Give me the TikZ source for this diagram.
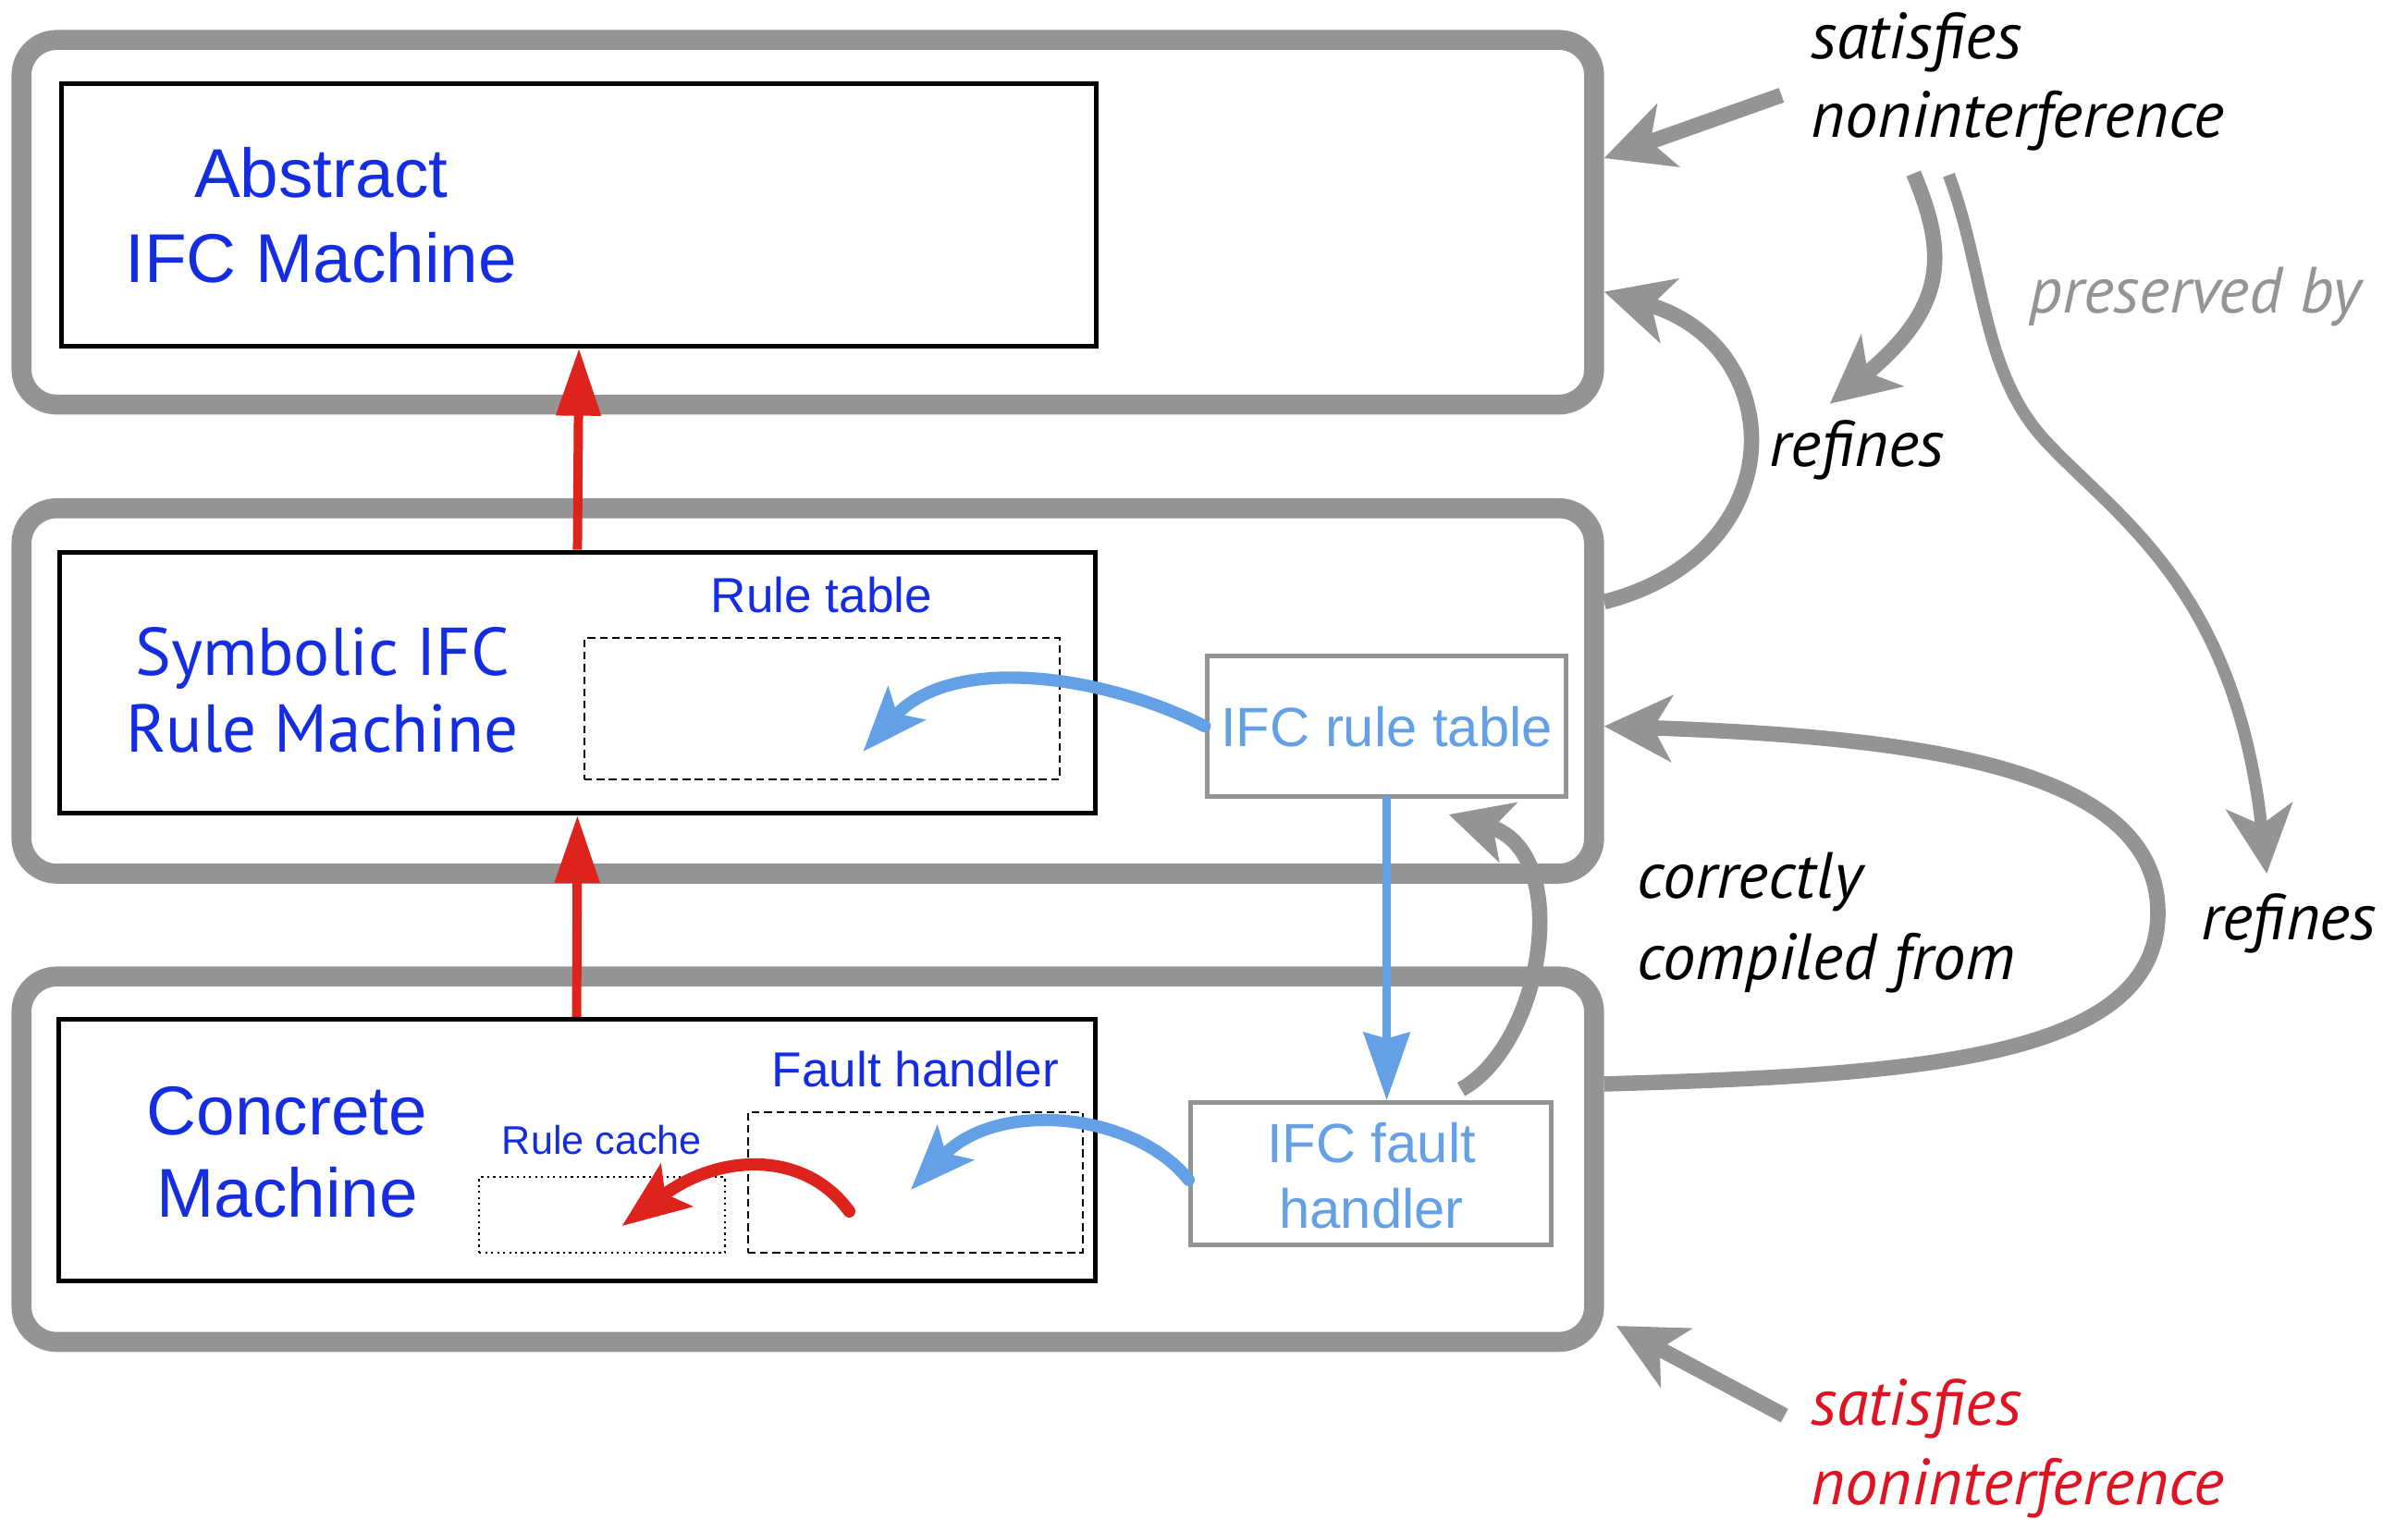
\documentclass[tikz,border=0pt]{standalone}
\usepackage{fontspec}
\setmainfont{Liberation Sans}
\newfontfamily\gill{PT Sans}
\usetikzlibrary{arrows.meta,calc}
\definecolor{tblue}{RGB}{20,45,225}
\definecolor{lblue}{RGB}{100,160,230}
\definecolor{ared}{RGB}{222,34,28}
\definecolor{tred}{RGB}{222,20,35}
\definecolor{agray}{RGB}{148,148,148}
\newcommand\lblfont{\gill\itshape\fontsize{42.5}{51}\selectfont}
\begin{document}
\begin{tikzpicture}[x=1pt,y=-1pt,
 layer/.style={draw=agray,line width=13pt,rounded corners=23pt,inner sep=0pt,outer sep=6.5pt},
 machine/.style={draw=black,line width=3pt,inner sep=0pt,outer sep=1.5pt},
 dashbox/.style={draw=black,line width=1.4pt,dash pattern=on 5pt off 3pt,inner sep=0pt,outer sep=0pt},
 dotbox/.style={draw=black,line width=1.4pt,dash pattern=on 1.4pt off 2.5pt,inner sep=0pt,outer sep=0pt},
 graybox/.style={draw=agray,line width=3pt,inner sep=0pt,outer sep=1.5pt},
 lbl/.style={inner sep=0pt,anchor=base},
 lbll/.style={inner sep=0pt,anchor=base west,align=left,font=\lblfont},
 redarr/.style={draw=ared,line width=6pt,-{Triangle[length=44pt,width=28pt]}},
 bluearr/.style={draw=lblue,line width=8pt,line cap=round,-{Stealth[length=42pt,width=32pt,inset=9pt]}},
 grayarr/.style={draw=agray,line width=10pt,-{Stealth[length=44pt,width=43pt,inset=12pt]}}]
\useasboundingbox (0,0) rectangle (1568,989);
% layers
\node[layer, minimum width=1024pt, minimum height=237.5pt] (L1) at (526,144.75) {};
\node[layer, minimum width=1024pt, minimum height=238pt] (L2) at (526,450) {};
\node[layer, minimum width=1024pt, minimum height=238pt] (L3) at (526,755) {};
% machines
\node[machine, minimum width=674pt, minimum height=170.5pt] (A) at (377,140) {};
\node[machine, minimum width=674pt, minimum height=170pt] (S) at (376,444.5) {};
\node[machine, minimum width=675pt, minimum height=170.5pt] (C) at (375.5,749) {};
% inner parts
\node[dashbox, minimum width=309.5pt, minimum height=92pt] (RT) at (535.25,461.5) {};
\node[dashbox, minimum width=218pt, minimum height=91.5pt] (FH) at (596,770) {};
\node[dotbox, minimum width=160pt, minimum height=49.3pt] (RC) at (392,791.3) {};
\node[graybox, minimum width=234pt, minimum height=92pt] (IRT) at (903,473) {};
\node[graybox, minimum width=234.5pt, minimum height=93pt] (IFH) at (892.75,764.5) {};
% texts (multi-line nodes: base = last line)
\node[lbl, align=center, text=tblue, font=\fontsize{45}{55}\selectfont] (tA) at (209,183.7) {Abstract\\IFC Machine};
\node[lbl, align=center, text=tblue, font=\gill\fontsize{44}{50}\selectfont] (tS) at (210,490) {Symbolic IFC\\Rule Machine};
\node[lbl, align=center, text=tblue, font=\fontsize{45}{54}\selectfont] (tC) at (187,793) {Concrete\\Machine};
\node[lbl, text=tblue, font=\fontsize{32}{38}\selectfont] (tRT) at (535,399) {Rule table};
\node[lbl, text=tblue, font=\fontsize{32}{38}\selectfont] (tFH) at (596,707.6) {Fault handler};
\node[lbl, text=tblue, font=\fontsize{26}{31}\selectfont] (tRC) at (392,751.6) {Rule cache};
\node[lbl, text=lblue, font=\fontsize{36}{43}\selectfont] (tIRT) at (903,486) {IFC rule table};
\node[lbl, align=center, text=lblue, font=\fontsize{36}{43}\selectfont] (tIFH) at (893,800) {IFC fault\\handler};
% italic labels
\node[lbll] (sat1) at (1179,89.3) {satisfies\\noninterference};
\node[lbll, text=agray] (pres) at (1321,204) {preserved by};
\node[lbll] (ref1) at (1152,304) {refines};
\node[lbll] (ref2) at (1433,612) {refines};
\node[lbll, font=\gill\itshape\fontsize{42.5}{53}\selectfont] (comp) at (1066,638) {correctly\\compiled from};
\node[lbll, text=tred, font=\gill\itshape\fontsize{42.5}{52}\selectfont] (sat2) at (1179,980) {satisfies\\noninterference};
% red arrows
\draw[redarr] (S.north) -- (A.south);
\draw[redarr] (C.north) -- (S.south);
\coordinate (rcstart) at (553,789);
\coordinate (rctip) at (405,798.5);
\draw[redarr, line width=8pt, line cap=round, -{Stealth[length=44pt,width=34pt,inset=9pt]}] (rcstart) .. controls (525,750) and (470,750) .. (rctip);
% blue arrows
\coordinate (rttip) at (562,489.5);
\draw[bluearr] (IRT.west) .. controls (720,440) and (620,425) .. (rttip);
\coordinate (fhtip) at (593,775);
\draw[bluearr] ([yshift=-4pt]IFH.west) .. controls (740,725) and (650,715) .. (fhtip);
\draw[bluearr, line width=5pt, -{Stealth[length=44pt,width=30pt,inset=4pt]}] (IRT.south) -- (IRT.south |- IFH.north);
% gray arrows
\coordinate (s1start) at (1160,62);
\draw[grayarr] (s1start) -- (L1.east |- 0,103);
\draw[grayarr] (L2.east |- 0,392) .. controls (1170,360) and (1165,225) .. (L1.east |- 0,190);
\coordinate (r1start) at (1246,113);
\coordinate (r1tip) at (1191.5,263);
\draw[grayarr] (r1start) .. controls (1268,165) and (1268,200) .. (r1tip);
\coordinate (p1start) at (1269,114);
\coordinate (p1tip) at (1476,569);
\draw[grayarr, line width=8pt] (p1start) .. controls (1292,175) and (1290,240) .. (1330,285) .. controls (1375,335) and (1455,380) .. (p1tip);
\draw[grayarr] (L3.east |- 0,706) .. controls (1250,700) and (1410,690) .. (1405,590) .. controls (1400,500) and (1250,480) .. (L2.east |- 0,473);
\coordinate (cgstart) at (951.4,709.5);
\coordinate (cgtip) at (943.4,530.5);
\draw[grayarr, -{Stealth[length=40pt,width=40pt,inset=10pt]}] (cgstart) .. controls (1005,680) and (1025,555) .. (cgtip);
\coordinate (s2start) at (1162,922);
\draw[grayarr] (s2start) -- ($(L3.south east)+(8,-17)$);
\end{tikzpicture}
\end{document}
